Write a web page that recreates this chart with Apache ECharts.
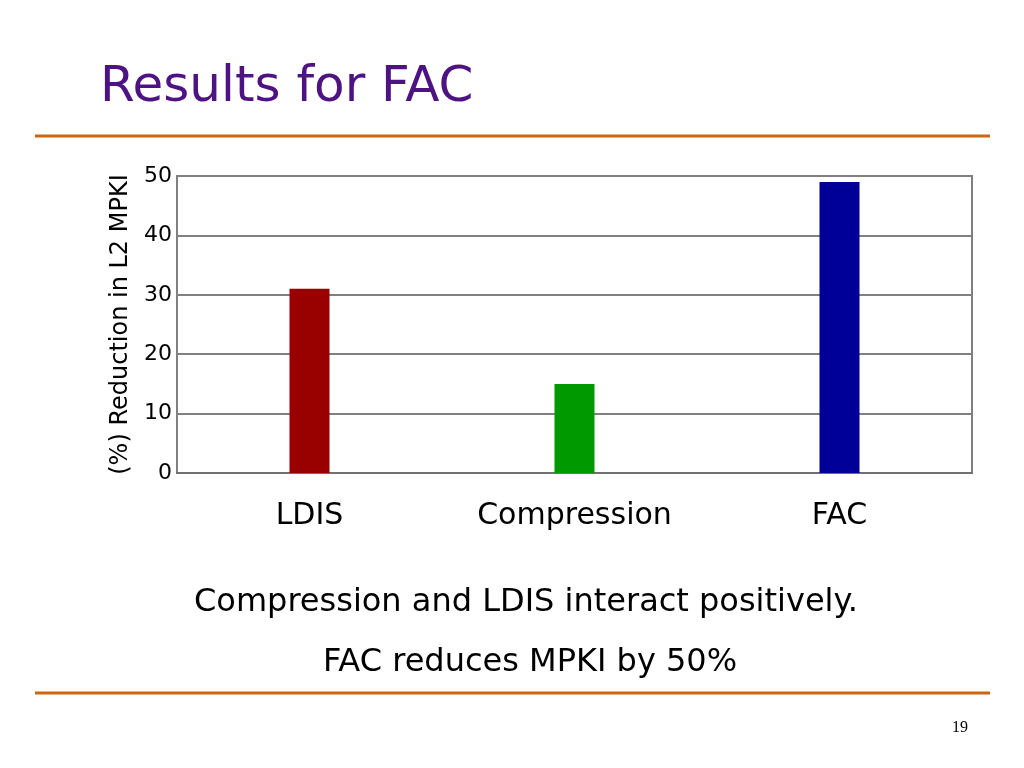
<!DOCTYPE html>
<html>
<head>
<meta charset="UTF-8">
<title>Results for FAC</title>
<style type="text/css">
	html, body { margin: 0; padding: 0; background: #fff; }
	#container { width: 1024px; height: 768px; }
</style>
</head>
<body>
<div id="container"></div>
<script src="https://cdn.jsdelivr.net/npm/echarts@6/dist/echarts.min.js"></script>
<script>
// data
var categories = ['LDIS', 'Compression', 'FAC'];
var reduction = [31, 15, 49];
var barColors = ['#990000', '#009900', '#000099'];
var yMin = 0, yMax = 50, yStep = 10;

var font = '"DejaVu Sans", "Open Sans", sans-serif';
var myChart = echarts.init(document.getElementById('container'));

var option = {
	backgroundColor: '#fff',
	animation: false,
	grid: {
		left: 177, right: 52, top: 176, bottom: 295,
		show: true, borderColor: '#808080', borderWidth: 2
	},
	xAxis: {
		type: 'category',
		data: categories,
		axisLine: { lineStyle: { color: '#707070', width: 2 } },
		axisTick: { alignWithLabel: true, length: 5, lineStyle: { color: '#808080' } },
		axisLabel: { color: '#000', fontSize: 30, fontFamily: font, margin: 28 }
	},
	yAxis: {
		type: 'value',
		min: yMin, max: yMax, interval: yStep,
		name: '(%) Reduction in L2 MPKI',
		nameLocation: 'middle',
		nameGap: 44,
		nameTextStyle: { color: '#000', fontSize: 24, fontFamily: font },
		axisLine: { show: false },
		axisTick: { show: false },
		axisLabel: { color: '#000', fontSize: 22, fontFamily: font, margin: 5 },
		splitLine: { lineStyle: { color: '#808080', width: 2 } }
	},
	series: [{
		type: 'bar',
		barWidth: 40,
		data: reduction.map(function (v, i) {
			return { value: v, itemStyle: { color: barColors[i] } };
		})
	}],
	graphic: [
		{ type: 'text', left: 100, top: 63,
		  style: { text: 'Results for FAC', fill: '#4E1383', font: '50px ' + font } },
		{ type: 'line', shape: { x1: 35, y1: 136, x2: 990, y2: 136 },
		  style: { stroke: '#CC6611', lineWidth: 3 } },
		{ type: 'text', x: 526, y: 603,
		  style: { text: 'Compression and LDIS interact positively.', fill: '#000',
		           font: '32px ' + font, align: 'center', verticalAlign: 'middle' } },
		{ type: 'text', x: 530, y: 663,
		  style: { text: 'FAC reduces MPKI by 50%', fill: '#000',
		           font: '32px ' + font, align: 'center', verticalAlign: 'middle' } },
		{ type: 'line', shape: { x1: 35, y1: 693, x2: 990, y2: 693 },
		  style: { stroke: '#CC6611', lineWidth: 3 } },
		{ type: 'text', x: 960, y: 728,
		  style: { text: '19', fill: '#000', font: '16px "Liberation Serif", serif',
		           align: 'center', verticalAlign: 'middle' } }
	]
};

myChart.setOption(option);
</script>
</body>
</html>
